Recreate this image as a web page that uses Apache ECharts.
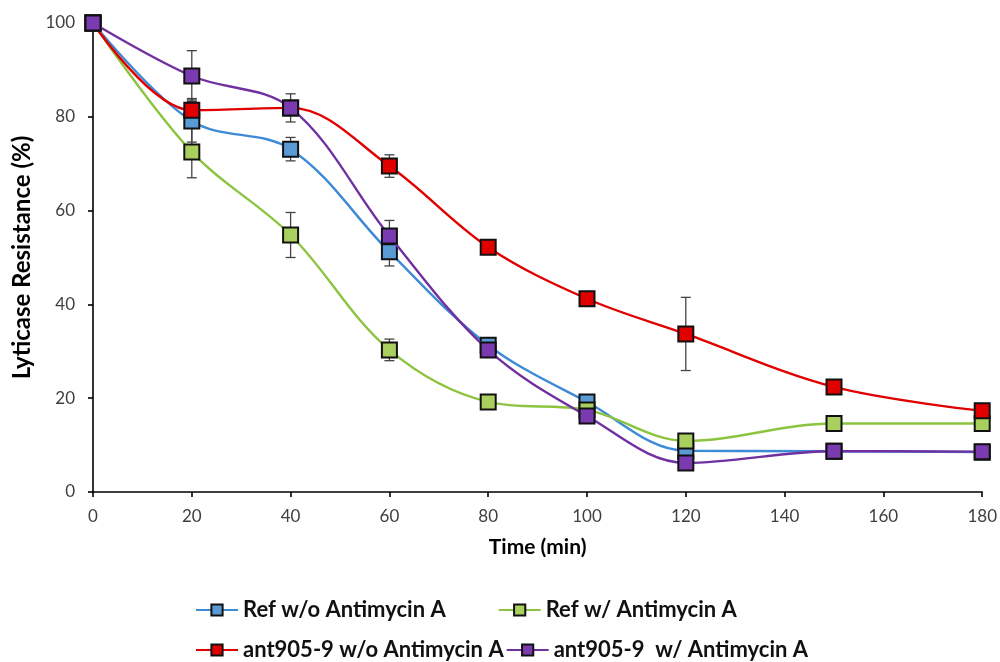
<!DOCTYPE html>
<html><head><meta charset="utf-8">
<script src="https://cdn.jsdelivr.net/npm/echarts@6/dist/echarts.min.js"></script>
<style>html,body{margin:0;padding:0;background:#fff}#c{width:1000px;height:662px}</style>
</head><body><div id="c"></div>
<script>
const times = [0, 20, 40, 60, 80, 100, 120, 150, 180];
const refWo = [100, 79.1, 73.1, 51.2, 31.3, 19.2, 8.8, 8.7, 8.5];
const refW = [100, 72.5, 54.8, 30.3, 19.2, 17.5, 10.9, 14.6, 14.6];
const antWo = [100, 81.4, 81.9, 69.5, 52.2, 41.2, 33.7, 22.4, 17.3];
const antW = [100, 88.7, 81.9, 54.6, 30.3, 16.2, 6.2, 8.7, 8.6];
const refWoErr = [0, 4.5, 2.5, 3.0, 1.0, 1.0, 0.5, 0, 0];
const refWErr = [0, 5.5, 4.8, 2.3, 0.5, 0, 0, 0, 0];
const antWoErr = [0, 2.5, 1.2, 2.4, 0, 0, 7.8, 0, 0];
const antWErr = [0, 5.4, 3.0, 3.3, 0, 0, 0, 0, 0];
const names = ['Ref w/o Antimycin A', 'Ref w/ Antimycin A', 'ant905-9 w/o Antimycin A', 'ant905-9  w/ Antimycin A'];

const lineColors = ['#3d8bd6', '#8cc43f', '#e00000', '#7030a0'];
const fillColors = ['#5b9bd5', '#a9d05f', '#e00000', '#7a3ab0'];
const values = [refWo, refW, antWo, antW];
const errs = [refWoErr, refWErr, antWoErr, antWErr];

const font = 'Lato, "Open Sans", sans-serif';

const series = [];
values.forEach((vals, i) => {
  series.push({
    type: 'custom',
    name: names[i] + ' err',
    z: 1,
    silent: true,
    data: times.map((t, k) => [t, vals[k], errs[i][k]]).filter(d => d[2] > 0),
    renderItem: function (params, api) {
      const x = api.value(0), y = api.value(1), e = api.value(2);
      const top = api.coord([x, y + e]);
      const bot = api.coord([x, y - e]);
      const w = 5;
      const st = { stroke: '#444', lineWidth: 1.3 };
      return { type: 'group', children: [
        { type: 'line', shape: { x1: top[0], y1: top[1], x2: bot[0], y2: bot[1] }, style: st },
        { type: 'line', shape: { x1: top[0] - w, y1: top[1], x2: top[0] + w, y2: top[1] }, style: st },
        { type: 'line', shape: { x1: bot[0] - w, y1: bot[1], x2: bot[0] + w, y2: bot[1] }, style: st }
      ]};
    }
  });
});
values.forEach((vals, i) => {
  series.push({
    type: 'line',
    name: names[i],
    z: 3 + i,
    smooth: 0.35,
    data: times.map((t, k) => [t, vals[k]]),
    symbol: 'rect',
    symbolSize: 15,
    lineStyle: { color: lineColors[i], width: 2.4 },
    itemStyle: { color: fillColors[i], borderColor: '#111', borderWidth: 2 },
    emphasis: { disabled: true }
  });
});

const legendText = { fontFamily: font, fontSize: 22, fontWeight: 'bold', color: '#111' };
const chart = echarts.init(document.getElementById('c'));
chart.setOption({
  animation: false,
  backgroundColor: '#fff',
  grid: { left: 93, right: 17, top: 23, bottom: 170, containLabel: false },
  legend: [
    { data: [names[0], names[1]], left: 190, top: 594, itemGap: 52, itemWidth: 42, itemHeight: 14, textStyle: legendText },
    { data: [names[2], names[3]], left: 190, top: 634, itemGap: 2, itemWidth: 42, itemHeight: 14, textStyle: legendText }
  ],
  xAxis: {
    type: 'value', min: 0, max: 180, interval: 20,
    name: 'Time (min)', nameLocation: 'middle', nameGap: 45,
    nameTextStyle: { fontFamily: font, fontSize: 21, fontWeight: 'bold', color: '#000' },
    axisLine: { lineStyle: { color: '#000', width: 1.6 } },
    axisTick: { show: true, length: 5, lineStyle: { color: '#000', width: 1.6 } },
    axisLabel: { fontFamily: font, fontSize: 17, color: '#404040', margin: 16 },
    splitLine: { show: false }
  },
  yAxis: {
    type: 'value', min: 0, max: 100, interval: 20,
    name: 'Lyticase Resistance (%)', nameLocation: 'middle', nameGap: 51, nameRotate: 90,
    nameTextStyle: { fontFamily: font, fontSize: 24, fontWeight: 'bold', color: '#000' },
    axisLine: { show: true, lineStyle: { color: '#000', width: 1.6 } },
    axisTick: { show: true, length: 5, lineStyle: { color: '#000', width: 1.6 } },
    axisLabel: { fontFamily: font, fontSize: 17, color: '#404040', margin: 18 },
    splitLine: { show: false }
  },
  series: series
});
</script></body></html>
